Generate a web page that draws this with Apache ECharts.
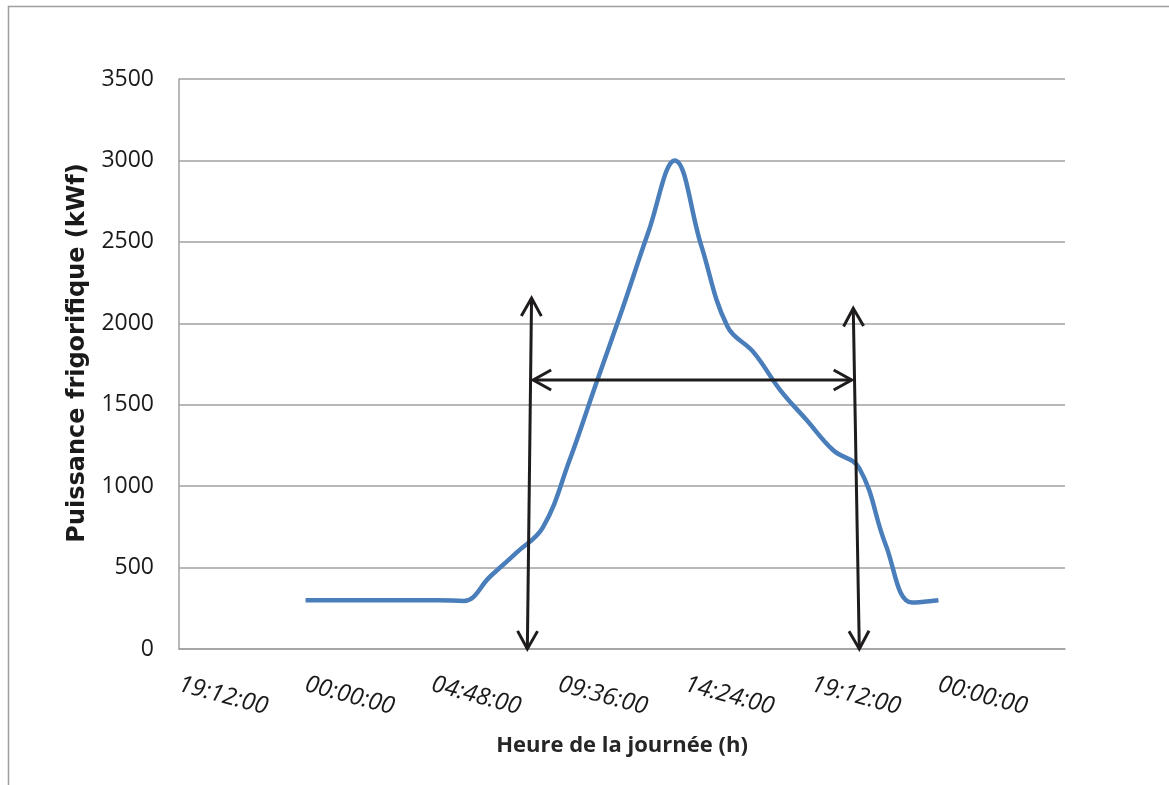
<!DOCTYPE html>
<html>
<head>
<meta charset="utf-8">
<script src="https://cdn.jsdelivr.net/npm/echarts@6/dist/echarts.min.js"></script>
<style>
  html, body { margin: 0; padding: 0; background: #ffffff; }
  #chart { width: 1169px; height: 785px; }
</style>
</head>
<body>
<div id="chart"></div>
<script>
// Hour of the day (h) and cooling power (kWf)
const hours = [0, 1, 2, 3, 4, 5, 6, 7, 8, 9, 10, 11, 12, 13, 14, 15, 16, 17, 18, 19, 20, 21, 22, 23, 24];
const power = [300, 300, 300, 300, 300, 300, 295, 445, 592, 747, 1154, 1621, 2081, 2560, 3000, 2480, 1980, 1820, 1590, 1406, 1222, 1110, 640, 285, 300];

// Double-headed annotation arrows: [x1 (h), y1 (kWf), x2 (h), y2 (kWf)]
const arrowSegments = [
  [8.41, 0, 8.57, 2155],
  [21.0, 0, 20.77, 2092],
  [8.63, 1652, 20.71, 1652]
];

// X axis: ticks every 4.8 h (0.2 day), starting at -4.8 h (19:12 the previous day)
const xMin = -4.8, xMax = 28.8, xStep = 4.8;
const yMin = 0, yMax = 3500, yStep = 500;

function fmtTime(v) {
  let t = ((v % 24) + 24) % 24;
  let h = Math.floor(t + 1e-9);
  let m = Math.round((t - h) * 60);
  if (m >= 60) { m -= 60; h = (h + 1) % 24; }
  const p = n => (n < 10 ? '0' : '') + n;
  return p(h) + ':' + p(m) + ':00';
}

const chart = echarts.init(document.getElementById('chart'), null, { renderer: 'canvas' });
const lineData = hours.map((h, i) => [h, power[i]]);

const option = {
  backgroundColor: '#ffffff',
  animation: false,
  graphic: [{
    type: 'rect',
    silent: true,
    z: -10,
    shape: { x: 8.5, y: 6.5, width: 1300, height: 900 },
    style: { fill: 'none', stroke: '#9e9e9e', lineWidth: 1.5 }
  }],
  grid: { left: 179, right: 104, top: 79, bottom: 136, containLabel: false },
  xAxis: {
    type: 'value',
    min: xMin, max: xMax, interval: xStep,
    name: 'Heure de la journée (h)',
    nameLocation: 'middle',
    nameGap: 86,
    nameTextStyle: { fontFamily: 'Open Sans', fontWeight: 'bold', fontSize: 22, color: '#262626' },
    axisLine: { show: true, onZero: false, lineStyle: { color: '#a0a0a0', width: 1.5 } },
    axisTick: { show: false },
    splitLine: { show: false },
    axisLabel: {
      rotate: -15,
      margin: 35,
      showMaxLabel: false,
      showMinLabel: true,
      fontFamily: 'Open Sans',
      fontStyle: 'italic',
      fontSize: 24,
      color: '#1a1a1a',
      formatter: fmtTime
    }
  },
  yAxis: {
    type: 'value',
    min: yMin, max: yMax, interval: yStep,
    name: 'Puissance frigorifique (kWf)',
    nameLocation: 'middle',
    nameGap: 89,
    nameTextStyle: { fontFamily: 'DejaVu Sans', fontWeight: 'bold', fontSize: 24, color: '#1a1a1a', padding: [0, 0, 0, 22] },
    axisLine: { show: true, onZero: false, lineStyle: { color: '#a0a0a0', width: 1.5 } },
    axisTick: { show: false },
    splitLine: { show: true, lineStyle: { color: '#a0a0a0', width: 1.5 } },
    axisLabel: { margin: 25, fontFamily: 'Open Sans', fontSize: 23, color: '#1a1a1a', formatter: v => String(v) }
  },
  series: [
    {
      type: 'line',
      data: lineData,
      smooth: 0.4,
      showSymbol: false,
      lineStyle: { color: '#4A7EBB', width: 4.5 },
      z: 3
    },
    {
      type: 'custom',
      data: arrowSegments,
      encode: { x: [0, 2], y: [1, 3] },
      clip: false,
      z: 5,
      renderItem: function (params, api) {
        const p1 = api.coord([api.value(0), api.value(1)]);
        const p2 = api.coord([api.value(2), api.value(3)]);
        const dx = p2[0] - p1[0], dy = p2[1] - p1[1];
        const len = Math.sqrt(dx * dx + dy * dy);
        const ux = dx / len, uy = dy / len;
        const nx = -uy, ny = ux;
        const L = 18, W = 10;
        const style = { stroke: '#1f1c1d', lineWidth: 3, fill: 'none', lineJoin: 'miter', lineCap: 'butt' };
        const head = (tip, sx, sy) => ({
          type: 'polyline',
          shape: { points: [
            [tip[0] + sx * L + nx * W, tip[1] + sy * L + ny * W],
            [tip[0], tip[1]],
            [tip[0] + sx * L - nx * W, tip[1] + sy * L - ny * W]
          ] },
          style: style
        });
        return {
          type: 'group',
          children: [
            { type: 'line', shape: { x1: p1[0], y1: p1[1], x2: p2[0], y2: p2[1] }, style: style },
            head(p2, -ux, -uy),
            head(p1, ux, uy)
          ]
        };
      }
    }
  ]
};

chart.setOption(option);
</script>
</body>
</html>
